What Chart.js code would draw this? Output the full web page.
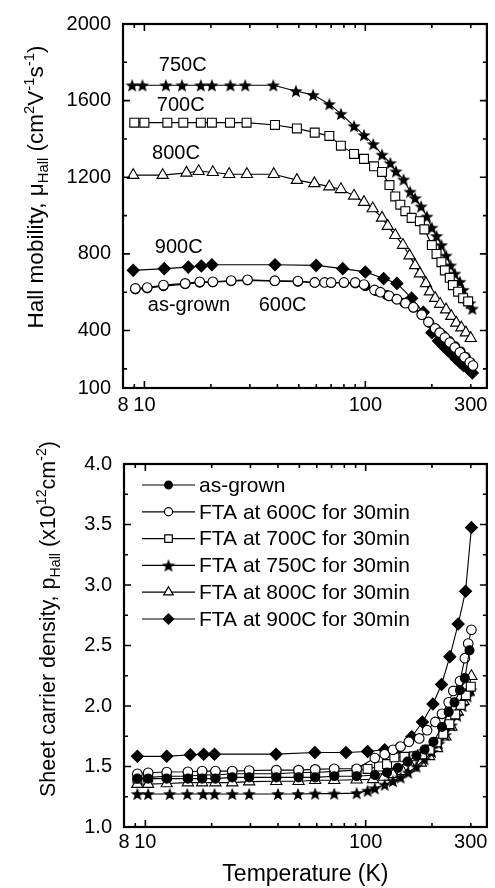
<!DOCTYPE html>
<html>
<head>
<meta charset="utf-8">
<script src="https://cdn.jsdelivr.net/npm/chart.js@4.4.0/dist/chart.umd.min.js"></script>
<style>
  html, body { margin: 0; padding: 0; background: #fff; }
  #wrap { position: relative; width: 495px; height: 888px; }
  .panel { position: absolute; left: 0; }
</style>
</head>
<body>
<div id="wrap">
  <canvas id="mobChart" class="panel" style="top:0" width="495" height="440"></canvas>
  <canvas id="densChart" class="panel" style="top:440px" width="495" height="448"></canvas>
</div>
<script>
// ---- data ----
const seriesLabels = ['as-grown', 'FTA at 600C for 30min', 'FTA at 700C for 30min',
  'FTA at 750C for 30min', 'FTA at 800C for 30min', 'FTA at 900C for 30min'];

// x axis (temperature, K)
const xTickLabels = [8, 10, 100, 300];
const xMajorTicks = [10, 100];
const xMinorTicks = [9, 20, 30, 40, 50, 60, 70, 80, 90, 200, 300];

// top panel: Hall mobility (cm2/Vs)
const mobTickLabels = [100, 400, 800, 1200, 1600, 2000];
const mobMajorTicks = [400, 800, 1200, 1600];
const mobMinorTicks = [200, 600, 1000, 1400, 1800];

const mobAsGrownT = [9.1, 10.3, 12.2, 15.3, 17.8, 20.4, 24.7, 29.3, 38.9, 49.5, 59, 70, 80, 90, 100, 112, 125, 138, 150, 165, 180, 195, 210, 225, 240, 255, 270, 285, 300];
const mobAsGrown = [615, 620, 632, 642, 650, 652, 658, 662, 658, 655, 650, 648, 648, 646, 632, 605, 585, 565, 545, 520, 484, 440, 405, 375, 345, 318, 290, 262, 232];

const mob600T = [9.1, 10.3, 12.2, 15.3, 17.8, 20.4, 24.7, 29.3, 38.9, 49.5, 59, 65.4, 70, 80, 90, 98.6, 110, 117, 128, 139, 152, 165, 180, 193, 207, 217, 229, 241, 254, 268, 281, 297, 307];
const mob600 = [620, 624, 637, 646, 654, 654, 661, 665, 660, 658, 651, 651, 651, 651, 651, 640, 612, 600, 581, 563, 543, 521, 483, 445, 411, 389, 363, 337, 311, 286, 260, 234, 217];

const mob700T = [9, 10, 12.7, 15, 18, 20.2, 24.4, 29, 39, 49, 59, 68.7, 77.5, 88.9, 98.6, 109.5, 119, 128.6, 136.6, 144, 151.7, 162, 176.6, 185, 200, 210, 221, 229, 241, 249, 263, 277, 292];
const mob700 = [1485, 1485, 1485, 1485, 1485, 1485, 1485, 1485, 1473, 1455, 1433, 1416, 1365, 1322, 1296, 1257, 1228, 1159, 1100, 1057, 1023, 988, 971, 928, 846, 800, 757, 714, 675, 637, 603, 569, 552];

const mob750T = [8.8, 9.8, 12.5, 14.8, 18, 20.2, 24.5, 28.6, 38.3, 48.5, 58, 68.7, 77.5, 88.9, 98.6, 108.6, 119, 129.8, 137.6, 149, 159.5, 168, 178.8, 190, 200, 210, 221, 232, 243, 254, 268, 277, 287, 297, 305];
const mob750 = [1680, 1680, 1680, 1680, 1680, 1680, 1680, 1680, 1680, 1650, 1630, 1582, 1531, 1467, 1420, 1373, 1318, 1274, 1231, 1188, 1125, 1091, 1048, 995, 937, 894, 846, 791, 740, 697, 654, 612, 569, 543, 514];

const mob800T = [8.9, 12.1, 15.5, 17.6, 20.4, 24.2, 29.1, 38.5, 49, 58.8, 68.7, 77.5, 88.9, 98.6, 108, 119, 126.3, 136.6, 148, 158.5, 168, 176.6, 188, 196, 207, 218, 232, 245, 258, 272, 285, 300];
const mob800 = [1211, 1211, 1223, 1231, 1226, 1216, 1216, 1216, 1185, 1168, 1151, 1137, 1103, 1070, 1037, 988, 945, 897, 846, 791, 740, 697, 646, 603, 569, 538, 509, 475, 440, 415, 389, 360];

const mob900T = [8.9, 12.3, 15.8, 18.1, 20.2, 39, 59.9, 79, 100, 121, 139, 162, 183, 200, 214, 225, 237, 248, 258, 268, 278, 292, 305];
const mob900 = [714, 723, 731, 737, 743, 743, 740, 723, 706, 671, 646, 569, 495, 389, 346, 320, 295, 274, 252, 235, 218, 201, 178];

// bottom panel: sheet carrier density (1e12 cm-2)
const densTickLabels = [1.0, 1.5, 2.0, 2.5, 3.0, 3.5, 4.0];
const densMajorTicks = [1.5, 2.0, 2.5, 3.0, 3.5];
const densMinorTicks = [1.25, 1.75, 2.25, 2.75, 3.25, 3.75];

const densAsGrownT = [9.2, 10.3, 12.5, 15.6, 18.1, 20.8, 24.8, 29.6, 39.3, 49.6, 59, 72, 91, 110, 125, 140, 155, 170, 185, 203, 222, 238, 253, 268, 282, 296];
const densAsGrown = [1.40, 1.40, 1.40, 1.40, 1.40, 1.40, 1.41, 1.41, 1.41, 1.41, 1.41, 1.42, 1.42, 1.43, 1.45, 1.49, 1.54, 1.59, 1.64, 1.705, 1.827, 1.95, 2.03, 2.13, 2.23, 2.46];

const dens600T = [9.2, 10.3, 12.5, 15.6, 18.1, 20.8, 24.8, 29.6, 39.3, 49.6, 59, 72, 91, 110, 122, 133, 144, 157, 175, 190, 207, 222, 238, 250, 268, 282, 292, 302];
const dens600 = [1.44, 1.448, 1.454, 1.456, 1.462, 1.462, 1.462, 1.467, 1.47, 1.47, 1.476, 1.481, 1.481, 1.57, 1.602, 1.638, 1.665, 1.705, 1.732, 1.8, 1.868, 1.935, 2.03, 2.125, 2.206, 2.395, 2.516, 2.63];

const dens700T = [9.2, 10.3, 12.5, 15.6, 18.1, 20.8, 24.8, 29.6, 39.3, 49.6, 59, 72, 91, 102, 115, 125, 135, 150, 166, 180, 195, 210, 225, 240, 255, 270, 285, 300];
const dens700 = [1.40, 1.41, 1.42, 1.42, 1.43, 1.43, 1.44, 1.44, 1.44, 1.45, 1.45, 1.46, 1.47, 1.48, 1.50, 1.52, 1.576, 1.58, 1.584, 1.60, 1.64, 1.70, 1.77, 1.85, 1.93, 2.01, 2.09, 2.16];

const dens750T = [9.2, 10.3, 12.9, 15.5, 18.3, 20.6, 24.8, 29.6, 40, 49.3, 59, 72, 91, 102, 110, 122, 133, 144, 156, 170, 185, 200, 215, 230, 245, 260, 275, 290, 300];
const dens750 = [1.273, 1.273, 1.273, 1.273, 1.273, 1.273, 1.273, 1.273, 1.273, 1.273, 1.276, 1.276, 1.28, 1.30, 1.32, 1.35, 1.38, 1.41, 1.45, 1.50, 1.56, 1.62, 1.69, 1.76, 1.84, 1.92, 2.0, 2.08, 2.13];

const dens800T = [9.2, 10.3, 12.5, 15.6, 18.1, 20.8, 24.8, 29.6, 39.3, 49.6, 59, 72, 91, 108, 121, 133, 147, 162, 178, 194, 211, 230, 245, 262, 278, 292, 302];
const dens800 = [1.354, 1.354, 1.36, 1.367, 1.367, 1.367, 1.367, 1.375, 1.378, 1.378, 1.386, 1.386, 1.39, 1.394, 1.413, 1.435, 1.46, 1.49, 1.53, 1.584, 1.65, 1.746, 1.827, 1.95, 2.04, 2.12, 2.246];

const dens900T = [9.2, 12.5, 16, 18.4, 20.6, 39.2, 58.8, 81.4, 102, 122, 141, 162, 181, 202, 221, 241, 263, 284, 302];
const dens900 = [1.584, 1.584, 1.597, 1.602, 1.602, 1.602, 1.616, 1.616, 1.624, 1.638, 1.651, 1.746, 1.868, 2.016, 2.178, 2.408, 2.678, 2.948, 3.475];

// ---- drawing ----
const FONT = "'Liberation Sans', Arial, Helvetica, sans-serif";

function starCanvas(size) {
  const c = document.createElement('canvas');
  c.width = c.height = size;
  const g = c.getContext('2d');
  const r = size / 2, ri = r * 0.42, cy = r + r * 0.1;
  g.beginPath();
  for (let i = 0; i < 10; i++) {
    const a = -Math.PI / 2 + i * Math.PI / 5;
    const rr = i % 2 ? ri : r;
    g.lineTo(r + rr * Math.cos(a), cy + rr * Math.sin(a));
  }
  g.closePath();
  g.fillStyle = '#000';
  g.fill();
  return c;
}

const markers = [
  { ps: 'circle', r: 4.5, fill: '#000' },
  { ps: 'circle', r: 4.8, fill: '#fff' },
  { ps: 'rect', r: 6.3, fill: '#fff' },
  { ps: starCanvas(14), r: 7, fill: '#000' },
  { ps: 'triangle', r: 6.5, fill: '#fff' },
  { ps: 'rectRot', r: 6, fill: '#000' }
];

function series(idx, xs, ys, order) {
  const m = markers[idx];
  return {
    label: seriesLabels[idx],
    data: xs.map((t, i) => ({ x: t, y: ys[i] })),
    showLine: true,
    borderColor: '#000',
    borderWidth: 1.1,
    pointStyle: m.ps,
    pointRadius: m.r,
    pointBackgroundColor: m.fill,
    pointBorderColor: '#000',
    pointBorderWidth: 1.1,
    tension: 0,
    order: order || 0
  };
}

const framePlugin = {
  id: 'frame',
  afterDatasetsDraw(chart, args, o) {
    const { ctx, chartArea: a, scales: { x, y } } = chart;
    ctx.save();
    ctx.strokeStyle = '#000';
    ctx.lineWidth = 1.6;
    ctx.beginPath();
    const xt = (v, len) => {
      const p = x.getPixelForValue(v);
      ctx.moveTo(p, a.bottom); ctx.lineTo(p, a.bottom - len);
      ctx.moveTo(p, a.top); ctx.lineTo(p, a.top + len);
    };
    const yt = (v, len) => {
      const p = y.getPixelForValue(v);
      ctx.moveTo(a.left, p); ctx.lineTo(a.left + len, p);
      ctx.moveTo(a.right, p); ctx.lineTo(a.right - len, p);
    };
    o.xMajor.forEach(v => xt(v, 7));
    o.xMinor.forEach(v => xt(v, 4));
    o.yMajor.forEach(v => yt(v, 7));
    o.yMinor.forEach(v => yt(v, 4));
    ctx.stroke();
    ctx.lineWidth = 2.2;
    ctx.strokeRect(a.left, a.top, a.right - a.left, a.bottom - a.top);
    ctx.restore();
  }
};

// rotated axis title with sub/superscripts
const richTitlePlugin = {
  id: 'richTitle',
  afterDraw(chart, args, o) {
    if (!o.parts) return;
    const ctx = chart.ctx;
    const small = o.size * 0.66;
    ctx.save();
    ctx.translate(o.x, o.y);
    ctx.rotate(-Math.PI / 2);
    ctx.fillStyle = '#000';
    ctx.textBaseline = 'alphabetic';
    ctx.textAlign = 'left';
    let total = 0;
    o.parts.forEach(p => {
      ctx.font = (p.sub || p.sup ? small : o.size) + 'px ' + FONT;
      p.w = ctx.measureText(p.t).width;
      total += p.w;
    });
    let cx = -total / 2;
    o.parts.forEach(p => {
      ctx.font = (p.sub || p.sup ? small : o.size) + 'px ' + FONT;
      const dy = p.sup ? -o.size * 0.42 : p.sub ? o.size * 0.22 : 0;
      ctx.fillText(p.t, cx, dy);
      cx += p.w;
    });
    ctx.restore();
  }
};

const notesPlugin = {
  id: 'notes',
  afterDraw(chart, args, o) {
    if (!o.items) return;
    const { ctx, scales: { x, y } } = chart;
    ctx.save();
    ctx.fillStyle = '#000';
    ctx.font = o.size + 'px ' + FONT;
    ctx.textAlign = 'center';
    ctx.textBaseline = 'middle';
    o.items.forEach(n => ctx.fillText(n.text, x.getPixelForValue(n.t), y.getPixelForValue(n.v)));
    ctx.restore();
  }
};

const boxLegendPlugin = {
  id: 'boxLegend',
  afterDraw(chart, args, o) {
    if (!o.show) return;
    const ctx = chart.ctx;
    ctx.save();
    chart.data.datasets.forEach((ds, i) => {
      const yy = o.y0 + i * o.dy;
      ctx.strokeStyle = '#000';
      ctx.lineWidth = 1.2;
      ctx.beginPath();
      ctx.moveTo(o.x0, yy); ctx.lineTo(o.x0 + o.lineW, yy);
      ctx.stroke();
      ctx.fillStyle = ds.pointBackgroundColor;
      ctx.strokeStyle = '#000';
      Chart.helpers.drawPoint(ctx, {
        pointStyle: ds.pointStyle, radius: ds.pointRadius * 0.85,
        borderWidth: ds.pointBorderWidth, rotation: 0
      }, o.x0 + o.lineW / 2, yy);
      ctx.fillStyle = '#000';
      ctx.font = o.size + 'px ' + FONT;
      ctx.textAlign = 'left';
      ctx.textBaseline = 'middle';
      ctx.fillText(ds.label, o.x0 + o.lineW + 4, yy + 1);
    });
    ctx.restore();
  }
};

Chart.register(framePlugin, richTitlePlugin, notesPlugin, boxLegendPlugin);

function xScale(height, title, pad) {
  return {
    type: 'logarithmic', min: 8, max: 355,
    afterBuildTicks: s => { s.ticks = xTickLabels.map(v => ({ value: v })); },
    ticks: { autoSkip: false, maxRotation: 0, padding: pad, color: '#000',
      font: { family: FONT, size: 20 }, callback: v => String(v) },
    grid: { display: false, drawTicks: false },
    border: { display: false },
    title: title ? { display: true, text: title, color: '#000',
      font: { family: FONT, size: 23 }, padding: { top: 0, bottom: 0 } } : { display: false },
    afterFit: s => { s.height = height; }
  };
}

function yScale(min, max, labels, width, fmt) {
  return {
    type: 'linear', min: min, max: max,
    afterBuildTicks: s => { s.ticks = labels.map(v => ({ value: v })); },
    ticks: { padding: 12, color: '#000', font: { family: FONT, size: 20 }, callback: fmt },
    grid: { display: false, drawTicks: false },
    border: { display: false },
    afterFit: s => { s.width = width; }
  };
}

new Chart(document.getElementById('mobChart'), {
  type: 'scatter',
  data: {
    datasets: [
      series(1, mob600T, mob600),
      series(0, mobAsGrownT, mobAsGrown, 1),
      series(2, mob700T, mob700),
      series(3, mob750T, mob750),
      series(4, mob800T, mob800),
      series(5, mob900T, mob900)
    ]
  },
  options: {
    responsive: false, animation: false, devicePixelRatio: 1, events: [],
    layout: { padding: { top: 18, right: 4, left: 0, bottom: 0 } },
    scales: {
      x: xScale(52, null, 5),
      y: yScale(100, 2000, mobTickLabels, 123, v => String(v))
    },
    plugins: {
      legend: { display: false }, tooltip: { enabled: false },
      frame: { xMajor: xMajorTicks, xMinor: xMinorTicks, yMajor: mobMajorTicks, yMinor: mobMinorTicks },
      richTitle: {
        x: 43, y: 187, size: 22.5,
        parts: [{ t: 'Hall mobility, \u03bc' }, { t: 'Hall', sub: true }, { t: ' (cm' }, { t: '2', sup: true },
          { t: 'V' }, { t: '-1', sup: true }, { t: 's' }, { t: '-1', sup: true }, { t: ')' }]
      },
      notes: {
        size: 20,
        items: [
          { text: '750C', t: 14.9, v: 1784 },
          { text: '700C', t: 14.6, v: 1574 },
          { text: '800C', t: 13.9, v: 1322 },
          { text: '900C', t: 14.3, v: 834 },
          { text: 'as-grown', t: 15.9, v: 531 },
          { text: '600C', t: 42.2, v: 531 }
        ]
      },
      boxLegend: { show: false }
    }
  }
});

new Chart(document.getElementById('densChart'), {
  type: 'scatter',
  data: {
    datasets: [
      series(0, densAsGrownT, densAsGrown),
      series(1, dens600T, dens600),
      series(2, dens700T, dens700),
      series(3, dens750T, dens750),
      series(4, dens800T, dens800),
      series(5, dens900T, dens900)
    ]
  },
  options: {
    responsive: false, animation: false, devicePixelRatio: 1, events: [],
    layout: { padding: { top: 17, right: 4, left: 0, bottom: 0 } },
    scales: {
      x: xScale(61, 'Temperature (K)', 3),
      y: yScale(1.0, 4.0, densTickLabels, 124, v => v.toFixed(1))
    },
    plugins: {
      legend: { display: false }, tooltip: { enabled: false },
      frame: { xMajor: xMajorTicks, xMinor: xMinorTicks, yMajor: densMajorTicks, yMinor: densMinorTicks },
      richTitle: {
        x: 55, y: 179, size: 21.5,
        parts: [{ t: 'Sheet carrier density, p' }, { t: 'Hall', sub: true }, { t: ' (x10' }, { t: '12', sup: true },
          { t: 'cm' }, { t: '-2', sup: true }, { t: ')' }]
      },
      notes: {},
      boxLegend: { show: true, x0: 142, y0: 45, dy: 26.8, lineW: 53, size: 21 }
    }
  }
});
</script>
</body>
</html>
